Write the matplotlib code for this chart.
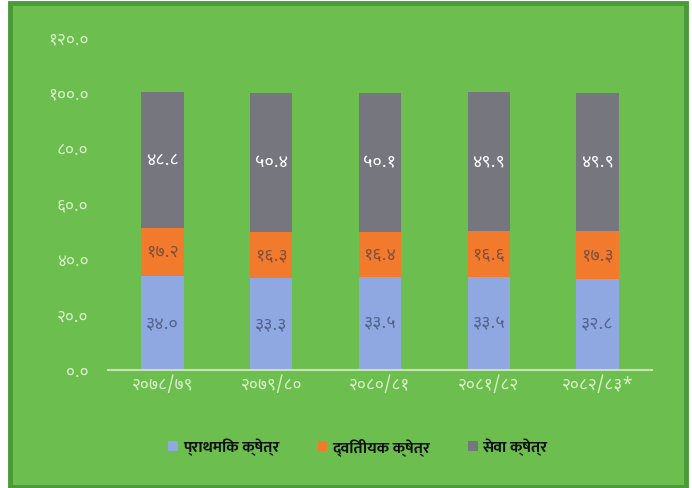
import matplotlib
matplotlib.use("Agg")
import matplotlib.pyplot as plt
from matplotlib import font_manager as fm
from matplotlib.patches import Rectangle, Patch
import numpy as np

# ---- data ----
categories = ["२०७८/७९", "२०७९/८०", "२०८०/८१", "२०८१/८२", "२०८२/८३*"]
primary = [34.0, 33.3, 33.5, 33.5, 32.8]
secondary = [17.2, 16.3, 16.4, 16.6, 17.3]
services = [48.8, 50.4, 50.1, 49.9, 49.9]
series_names = ["प्राथमिक क्षेत्र", "द्वितीयक क्षेत्र", "सेवा क्षेत्र"]
yticks = [0, 20, 40, 60, 80, 100, 120]

DEV_DIGITS = str.maketrans("0123456789", "०१२३४५६७८९")
def dev(v):
    return ("%.1f" % v).translate(DEV_DIGITS)

avail = {f.name for f in fm.fontManager.ttflist}
def pick(names):
    for n in names:
        if n in avail:
            return n
    return "DejaVu Sans"
font = pick(["Noto Sans Devanagari", "Mukta", "Hind", "Poppins"])
bold_font = pick(["Mukta", "Hind", "Noto Sans Devanagari", "Poppins"])
plt.rcParams['font.family'] = [font, 'DejaVu Sans']

W, H = 692, 488
fig = plt.figure(figsize=(W / 100, H / 100), dpi=100)
fig.patch.set_facecolor("white")

# green frame
fig.patches.append(Rectangle((10 / W, 1 - 487 / H), 676 / W, 484 / H, transform=fig.transFigure,
                             facecolor="#6cbf4e", edgecolor="#4a9a38", linewidth=3.5, zorder=-5))

ax = fig.add_axes([108 / W, 1 - 370 / H, 544 / W, 333 / H])
ax.set_zorder(2)
ax.set_facecolor("none")

colors = ["#8fa8e2", "#f27a2c", "#76767e"]
label_colors = ["#55648f", "#84503a", "#ffffff"]
x = np.arange(len(categories))
width = 0.39
bottom = np.zeros(len(categories))
for vals, c, lc in zip([primary, secondary, services], colors, label_colors):
    vals = np.array(vals)
    ax.bar(x, vals, width, bottom=bottom, color=c, zorder=2)
    for xi, b, v in zip(x, bottom, vals):
        ax.text(xi, b + v / 2, dev(v), ha="center", va="center", color=lc,
                fontsize=13, fontweight="bold", zorder=3)
    bottom += vals

ax.set_xlim(-0.5, len(categories) - 0.5)
ax.set_ylim(0, 120)
ax.set_yticks(yticks)
ax.set_yticklabels([dev(v) for v in yticks])
ax.set_xticks(x)
ax.set_xticklabels(categories)
ax.tick_params(axis="both", length=0, labelcolor="#d9efc9", labelsize=12.5)
ax.tick_params(axis="y", pad=14)
ax.tick_params(axis="x", pad=4)
for s in ["top", "right", "left"]:
    ax.spines[s].set_visible(False)
ax.spines["bottom"].set_color("#c9e2b4")
ax.spines["bottom"].set_linewidth(1.5)

handles = [Patch(facecolor=c, edgecolor="none") for c in colors]
leg = fig.legend(handles, series_names, loc="center", bbox_to_anchor=(358 / W, 1 - 447 / H),
                 ncol=3, frameon=False, handlelength=0.6, handleheight=0.6,
                 handletextpad=0.3, columnspacing=2.4,
                 prop={"family": [bold_font, "DejaVu Sans"], "weight": "bold", "size": 11.5})
leg.set_zorder(3)
for t in leg.get_texts():
    t.set_color("#111111")

fig.savefig("out.png", dpi=100)
